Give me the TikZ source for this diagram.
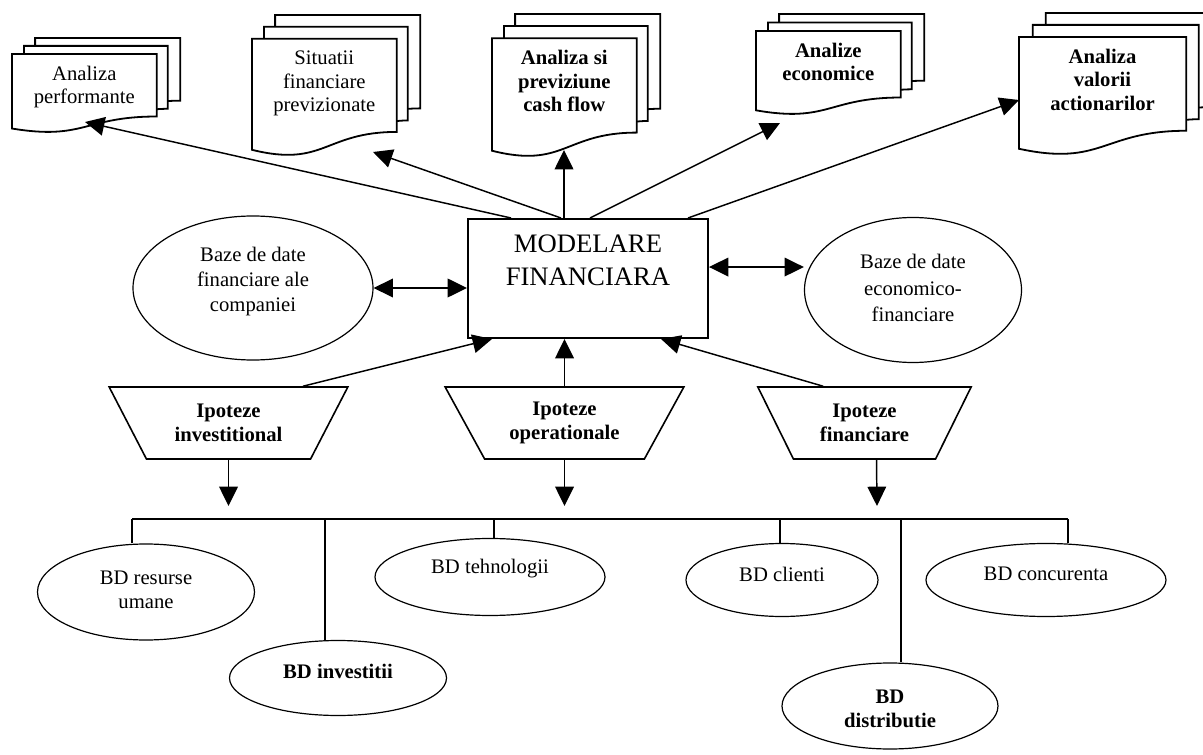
\documentclass[tikz,border=0pt]{standalone}
\usepackage{fontspec}
\setmainfont{Liberation Serif}
\usetikzlibrary{arrows.meta,shapes.geometric}
\tikzset{
  conn/.style={line width=1.1pt},
  arr/.style={conn,-{Triangle[length=14.5pt,width=14pt]}},
  darr/.style={conn,{Triangle[length=14.5pt,width=14pt]}-{Triangle[length=14.5pt,width=14pt]}},
  bus/.style={line width=1pt},
  sheet/.style={draw,fill=white,line width=1.35pt,line join=miter},
  doctext/.style={anchor=north,inner sep=0pt,align=center,font=\fontsize{15.5}{17.5}\selectfont},
  bdoctext/.style={doctext,font=\fontsize{15.5}{17.5}\selectfont\bfseries},
  ell/.style={draw,ellipse,fill=white,line width=0.9pt,inner sep=0pt},
  ltext/.style={align=center,inner sep=0pt,font=\fontsize{15.5}{18}\selectfont},
  ltextb/.style={ltext,font=\fontsize{15.5}{18}\selectfont\bfseries},
  trap/.style={draw,fill=white,line width=1.2pt,trapezium,shape border rotate=180,
    trapezium stretches=true,inner sep=0pt,align=center,minimum height=54pt,
    font=\fontsize{15.5}{18}\selectfont\bfseries},
}
% x0, y0, W, H, name, text style, text
\newcommand\mdoc[7]{%
  \begin{scope}[shift={(#1,#2)},x={(#3*0.0075pt,0)},y={(0,-#4*0.0075pt)}]
    \path[sheet] (13.76,0) -- (100,0) -- (100,66.63)
      .. controls (96.98,66.63) and (92.59,66.98) .. (92.59,66.98) -- (13.76,66.98) -- cycle;
    \path[sheet] (7.09,8.40) -- (92.59,8.40) -- (92.59,75.24)
      .. controls (89.34,75.24) and (86.09,75.70) .. (86.09,75.70) -- (7.09,75.70) -- cycle;
    \path[sheet] (0,96.21) .. controls (43.05,108.99) and (43.05,83.44) .. (86.09,83.44)
      -- (86.09,17.01) -- (0,17.01) -- cycle;
  \end{scope}
  \node[#6] (#5) at ({#1+0.43045*#3},{#2+0.1701*#4+12}) {#7};
}
\begin{document}
\begin{tikzpicture}[x=0.75pt,y=-0.75pt]
\useasboundingbox (0,0) rectangle (1203,755);
\clip (0,0) rectangle (1203,755);

% documents
\mdoc{12}{38}{168}{94}{d1}{doctext}{Analiza\\performante}
\mdoc{252}{15}{168}{140}{d2}{doctext}{Situatii\\financiare\\previzionate}
\mdoc{492}{14}{168}{142}{d3}{bdoctext}{Analiza si\\previziune\\cash flow}
\mdoc{756}{14}{168}{100}{d4}{bdoctext}{Analize\\economice}
\mdoc{1019}{13}{194}{141}{d5}{bdoctext}{Analiza\\valorii\\actionarilor}

% central box
\node[draw,fill=white,line width=1.5pt,minimum width=180pt,minimum height=89.25pt,inner sep=0pt,
  label={[yshift=13.5pt,align=center,inner sep=0pt,font=\fontsize{20}{25}\selectfont]center:MODELARE\\FINANCIARA}]
  (box) at (588,278.5) {};

% side databases
\node[ell,minimum width=180pt,minimum height=108pt,
  label={[ltext,font=\fontsize{15.5}{18.75}\selectfont,yshift=4.5pt]center:Baze de date\\financiare ale\\companiei}]
  (e1) at (253,288) {};
\node[ell,minimum width=162.75pt,minimum height=108.75pt,
  label={[ltext,font=\fontsize{15.5}{20}\selectfont,yshift=1.5pt]center:Baze de date\\economico-\\financiare}]
  (e2) at (913,290) {};

% hypotheses
\node[trap,minimum width=179.25pt,trapezium left angle=57,trapezium right angle=57] (t1) at (228.5,423) {Ipoteze\\investitional};
\node[trap,minimum width=179.25pt,trapezium left angle=57,trapezium right angle=57] (t2) at (564.5,423) {Ipoteze\\operationale};
\node[trap,minimum width=161.25pt,trapezium left angle=59.4,trapezium right angle=59.4] (t3) at (864.5,423) {Ipoteze\\financiare};

% lower databases
\node[ell,minimum width=162.75pt,minimum height=72pt,
  label={[ltext,yshift=1.5pt]center:BD resurse\\umane}] (er) at (146,592) {};
\node[ell,minimum width=162.75pt,minimum height=56.25pt,
  label={[ltextb,yshift=5pt]center:BD investitii}] (ei) at (338,678) {};
\node[ell,minimum width=172.5pt,minimum height=57.75pt,
  label={[ltext,yshift=6pt]center:BD tehnologii}] (et) at (490,577) {};
\node[ell,minimum width=144pt,minimum height=54.75pt,
  label={[ltext,yshift=4.5pt]center:BD clienti}] (ec) at (782,580) {};
\node[ell,minimum width=180pt,minimum height=54.75pt,
  label={[ltext,yshift=4.5pt]center:BD concurenta}] (ek) at (1046,580) {};
\node[ell,minimum width=162pt,minimum height=64.5pt,
  label={[ltextb,yshift=-2pt]center:BD\\distributie}] (ed) at (890,706) {};

% arrow tips / junctions
\coordinate (tip1) at (85,122);
\coordinate (tip2) at (373,152);
\coordinate (tip3) at (564,150);
\coordinate (tip4) at (780,123);
\coordinate (tip5) at (1019,100);
\coordinate (a1) at (229,506);
\coordinate (a2) at (564,506);
\coordinate (a3) at (877,506);
\coordinate (j1) at (132,519);
\coordinate (j2) at (325,519);
\coordinate (j3) at (494,519);
\coordinate (j4) at (780,519);
\coordinate (j5) at (901,519);
\coordinate (j6) at (1068,519);

% outputs
\draw[arr] ([xshift=33pt]box.north west) -- (tip1);
\draw[arr] ([xshift=70.5pt]box.north west) -- (tip2);
\draw[arr] ([xshift=-18pt]box.north) -- (tip3);
\draw[arr] ([xshift=1.5pt]box.north) -- (tip4);
\draw[arr] ([xshift=-15.75pt]box.north east) -- (tip5);

% databases <-> model
\draw[darr] (e1.east) -- (e1.east -| box.west);
\draw[darr] ([yshift=8.6pt]box.east) -- ([yshift=8.6pt]box.east -| e2.west);

% hypotheses -> model
\draw[arr] ([xshift=55.9pt]t1.north) -- ([xshift=18.75pt]box.south west);
\draw[arr] (t2.north) -- (t2.north |- box.south);
\draw[arr] ([xshift=-31.1pt]t3.north) -- ([xshift=-36pt]box.south east);

% hypotheses down
\draw[arr] (t1.south) -- (t1.south |- a1);
\draw[arr] (t2.south) -- (t2.south |- a2);
\draw[arr] ([xshift=9pt]t3.south) -- (a3);

% bus
\draw[bus] (j1) -- (j6);
\draw[bus] (j1) -- (j1 |- er.north);
\draw[bus] (j2) -- (j2 |- ei.north);
\draw[bus] (j3) -- (j3 |- et.north);
\draw[bus] (j4) -- (j4 |- ec.north);
\draw[bus] (j5) -- (j5 |- ed.north);
\draw[bus] (j6) -- (j6 |- ek.north);
\end{tikzpicture}
\end{document}
